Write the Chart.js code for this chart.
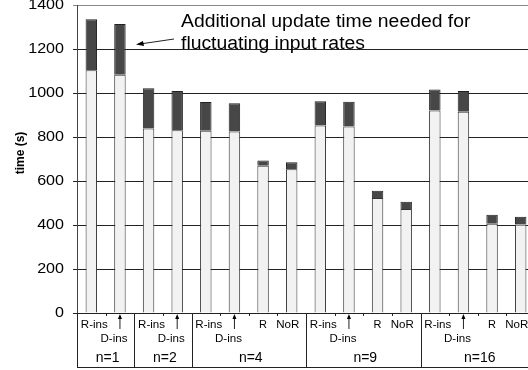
<!DOCTYPE html>
<html>
<head>
<meta charset="utf-8">
<script src="https://cdn.jsdelivr.net/npm/chart.js@4.4.0/dist/chart.umd.min.js"></script>
<style>
    html, body { margin: 0; padding: 0; background: #fff; overflow: hidden; }
    #wrap { width: 536px; height: 370px; position: relative; }
</style>
</head>
<body>
<div id="wrap"><canvas id="chart"></canvas></div>
<script>
// ─── Data ──────────────────────────────────────────────────
const slotLabels = ['R-ins', 'D-ins', 'R-ins', 'D-ins', 'R-ins', 'D-ins', 'R', 'NoR',
                    'R-ins', 'D-ins', 'R', 'NoR', 'R-ins', 'D-ins', 'R', 'NoR'];
const groupLabels = ['n=1', 'n=2', 'n=4', 'n=9', 'n=16'];
const groupSizes = [2, 2, 4, 4, 4];
const baseTime = [1103, 1083, 839, 831, 828, 825, 669, 653, 852, 848, 523, 473, 921, 915, 406, 402];
const extraTime = [232, 231, 183, 178, 131, 128, 24, 32, 111, 112, 33, 33, 95, 94, 41, 36];
const yTickLabels = [0, 200, 400, 600, 800, 1000, 1200, 1400];
const yTitle = 'time (s)';
const noteLines = ['Additional update time needed for', 'fluctuating input rates'];

const FONT = '"Liberation Sans", Arial, sans-serif';

// text drawn a bit wider, like the original figure
function wideText(ctx, text, x, y, sx) {
    ctx.save();
    ctx.translate(x, y);
    ctx.scale(sx, 1);
    ctx.fillText(text, 0, 0);
    ctx.restore();
}

// draws the y labels, the grouped x axis and the note
const overlayPlugin = {
    id: 'overlay',
    afterDraw(chart) {
        const ctx = chart.ctx;
        const x = chart.scales.x;
        const y = chart.scales.y;
        const area = chart.chartArea;
        const y0 = y.getPixelForValue(0);
        const slotW = x.getPixelForValue(1) - x.getPixelForValue(0);

        ctx.save();
        ctx.fillStyle = '#000';

        // y tick labels
        ctx.font = `14px ${FONT}`;
        ctx.textAlign = 'right';
        ctx.textBaseline = 'middle';
        yTickLabels.forEach(v => wideText(ctx, String(v), 64, y.getPixelForValue(v), 1.15));

        // y title
        ctx.save();
        ctx.translate(21, 153);
        ctx.rotate(-Math.PI / 2);
        ctx.font = `bold 12px ${FONT}`;
        ctx.textAlign = 'center';
        ctx.fillText(yTitle, 0, 0);
        ctx.restore();

        // x axis frame
        ctx.strokeStyle = '#222';
        ctx.lineWidth = 1;
        const bottom = 367.5;
        ctx.beginPath();
        for (let i = 0; i <= slotLabels.length; i++) {
            const px = Math.round(area.left + i * slotW) + 0.5;
            ctx.moveTo(px, y0);
            ctx.lineTo(px, y0 + 3);
        }
        let start = 0;
        const bounds = [0];
        groupSizes.forEach(s => { start += s; bounds.push(start); });
        bounds.forEach(b => {
            const px = Math.round(area.left + b * slotW) + 0.5;
            ctx.moveTo(px, y0);
            ctx.lineTo(px, bottom);
        });
        ctx.moveTo(area.left, bottom);
        ctx.lineTo(area.right, bottom);
        ctx.stroke();

        // slot labels
        ctx.font = `11px ${FONT}`;
        ctx.textBaseline = 'middle';
        ctx.textAlign = 'center';
        slotLabels.forEach((lab, i) => {
            const cx = x.getPixelForValue(i);
            if (lab === 'D-ins') {
                ctx.beginPath();
                ctx.moveTo(cx, y0 + 16);
                ctx.lineTo(cx, y0 + 3);
                ctx.stroke();
                ctx.beginPath();
                ctx.moveTo(cx, y0 + 1);
                ctx.lineTo(cx - 2, y0 + 6);
                ctx.lineTo(cx + 2, y0 + 6);
                ctx.closePath();
                ctx.fill();
                wideText(ctx, lab, cx - 6, y0 + 26, 1.05);
            } else if (lab === 'R-ins') {
                wideText(ctx, lab, cx + 3, y0 + 12, 1.05);
            } else if (lab === 'NoR') {
                wideText(ctx, lab, cx - 4, y0 + 12, 1.05);
            } else {
                ctx.fillText(lab, cx, y0 + 12);
            }
        });

        // group labels
        ctx.font = `14px ${FONT}`;
        groupLabels.forEach((lab, g) => {
            const cx = area.left + (bounds[g] + bounds[g + 1]) / 2 * slotW;
            ctx.fillText(lab, cx + 2, y0 + 45);
        });

        // note with arrow
        ctx.font = `18px ${FONT}`;
        ctx.textAlign = 'left';
        ctx.textBaseline = 'alphabetic';
        wideText(ctx, noteLines[0], 181, 27, 1.075);
        wideText(ctx, noteLines[1], 181, 49, 1.075);
        ctx.beginPath();
        ctx.moveTo(174, 39);
        ctx.lineTo(140, 44);
        ctx.stroke();
        ctx.beginPath();
        ctx.moveTo(136, 44.5);
        ctx.lineTo(143, 41);
        ctx.lineTo(144, 46);
        ctx.closePath();
        ctx.fill();

        ctx.restore();
    }
};

new Chart(document.getElementById('chart'), {
    type: 'bar',
    data: {
        labels: slotLabels,
        datasets: [{
            label: 'update time',
            data: baseTime,
            backgroundColor: '#f2f2f2',
            borderColor: '#333',
            borderWidth: 1
        }, {
            label: 'additional time',
            data: extraTime,
            backgroundColor: '#474747',
            borderColor: '#222',
            borderWidth: 1
        }]
    },
    options: {
        responsive: true,
        maintainAspectRatio: false,
        animation: false,
        layout: { padding: { top: 5, bottom: 57, left: 0, right: 1 } },
        datasets: { bar: { barPercentage: 0.4, categoryPercentage: 1 } },
        plugins: {
            legend: { display: false },
            tooltip: { enabled: false }
        },
        scales: {
            x: {
                stacked: true,
                display: false
            },
            y: {
                stacked: true,
                min: 0,
                max: 1400,
                afterFit: (scale) => { scale.width = 77; },
                ticks: { display: false, stepSize: 200 },
                grid: {
                    color: (c) => c.tick && c.tick.value === 1400 ? '#888' : '#222',
                    tickLength: 4,
                    drawTicks: true
                },
                border: { display: true, color: '#444' }
            }
        }
    },
    plugins: [overlayPlugin]
});
</script>
</body>
</html>
